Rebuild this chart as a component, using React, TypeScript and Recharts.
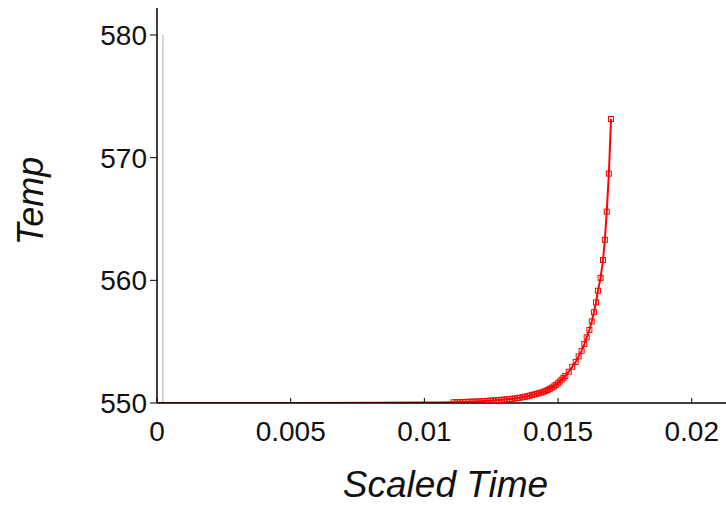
import React from "react";
import {
  LineChart,
  Line,
  XAxis,
  YAxis,
  ReferenceLine,
} from "recharts";

// scaled time values (sparse in the flat part, marker points near the runaway)
const times = [
  0, 0.002, 0.004, 0.006, 0.008, 0.01, 0.0105,
  0.01109, 0.01121, 0.01133, 0.01145, 0.01157, 0.01168, 0.0118, 0.01191,
  0.01203, 0.01214, 0.01225, 0.01236, 0.01247, 0.01257, 0.01268, 0.01278,
  0.01289, 0.01299, 0.01309, 0.01319, 0.01329, 0.01338, 0.01348, 0.01357,
  0.01367, 0.01376, 0.01385, 0.01394, 0.01403, 0.01411, 0.0142, 0.01428,
  0.01437, 0.01445, 0.01453, 0.01461, 0.01469, 0.01476, 0.01484, 0.01491,
  0.01499, 0.01506, 0.01513, 0.0152, 0.01527, 0.0154,
  0.01553, 0.01566, 0.01577, 0.01588, 0.01598, 0.01607, 0.01617, 0.01626,
  0.01634, 0.01642, 0.01649, 0.01659, 0.01668, 0.01675, 0.01682, 0.0169,
  0.01698,
];

const temps = [
  550.0, 550.0, 550.01, 550.01, 550.02, 550.04, 550.05,
  550.06, 550.065, 550.07, 550.08, 550.09, 550.1, 550.11, 550.12,
  550.13, 550.145, 550.16, 550.175, 550.19, 550.205, 550.22, 550.24,
  550.26, 550.28, 550.3, 550.32, 550.34, 550.37, 550.4, 550.43,
  550.47, 550.51, 550.55, 550.6, 550.65, 550.7, 550.75, 550.8,
  550.85, 550.91, 550.98, 551.06, 551.15, 551.25, 551.35, 551.47,
  551.6, 551.75, 551.9, 552.05, 552.2, 552.55,
  552.95, 553.35, 553.8, 554.25, 554.8, 555.35, 555.95, 556.65,
  557.4, 558.2, 559.15, 560.2, 561.65, 563.3, 565.6, 568.7,
  573.15,
];

const xTicks = [0, 0.005, 0.01, 0.015, 0.02];
const yTicks = [550, 560, 570, 580];

const data = times.map((t, i) => ({ t, temp: temps[i] }));

const FONT = "'Liberation Sans', Arial, sans-serif";
const RED = "#ff0000";

const SquareDot = (props: any) => {
  const { cx, cy, payload } = props;
  if (cx == null || cy == null || payload.t < 0.011) return <g key={props.index} />;
  return (
    <rect
      key={props.index}
      x={cx - 2.5}
      y={cy - 2.5}
      width={5}
      height={5}
      fill="none"
      stroke={RED}
      strokeWidth={1}
    />
  );
};

const XTick = (props: any) => {
  const { x, y, payload } = props;
  return (
    <g>
      <line x1={x} y1={y} x2={x} y2={y - 5} stroke="#000" strokeWidth={1} />
      <text
        x={x}
        y={y + 38}
        textAnchor="middle"
        fontFamily={FONT}
        fontSize={28}
        fill="#111"
      >
        {String(payload.value)}
      </text>
    </g>
  );
};

const YTitle = () => (
  <text
    transform="translate(43, 201) rotate(-90)"
    textAnchor="middle"
    fontFamily={FONT}
    fontStyle="italic"
    fontSize={36}
    fill="#111"
  >
    Temp
  </text>
);

export default function App() {
  return (
    <div style={{ position: "absolute", left: 0, top: 0, background: "#fff" }}>
      <LineChart
        width={726}
        height={505}
        data={data}
        margin={{ top: 8, right: 0, left: 0, bottom: 0 }}
      >
        <XAxis
          type="number"
          dataKey="t"
          domain={[0, 0.02128]}
          ticks={xTicks}
          allowDataOverflow
          height={102}
          tickSize={0}
          tickMargin={0}
          tickLine={false}
          tick={<XTick />}
          axisLine={{ stroke: "#000", strokeWidth: 1.5 }}
          label={{
            value: "Scaled Time",
            position: "insideBottom",
            offset: 8,
            dx: 4,
            style: {
              fontFamily: FONT,
              fontStyle: "italic",
              fontSize: 37,
              fill: "#111",
            },
          }}
        />
        <YAxis
          type="number"
          domain={[550, 582.2]}
          ticks={yTicks}
          allowDataOverflow
          width={157}
          tickSize={7}
          tickMargin={3}
          tickLine={{ stroke: "#000" }}
          axisLine={{ stroke: "#000", strokeWidth: 1.5 }}
          tick={{ fontFamily: FONT, fontSize: 28, fill: "#111" }}
          label={{ content: <YTitle /> }}
        />
        <ReferenceLine
          segment={[
            { x: 0.00022, y: 550 },
            { x: 0.00022, y: 580 },
          ]}
          stroke="#c8c8c8"
          strokeWidth={1.5}
        />
        <Line
          type="linear"
          dataKey="temp"
          stroke={RED}
          strokeWidth={2}
          dot={<SquareDot />}
          activeDot={false}
          isAnimationActive={false}
        />
      </LineChart>
    </div>
  );
}
